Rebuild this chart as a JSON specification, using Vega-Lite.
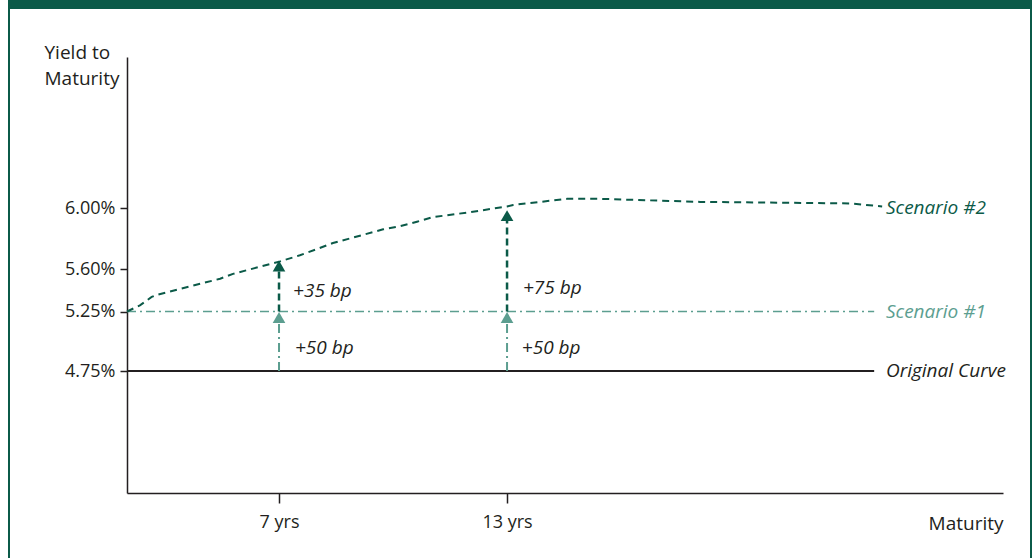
{
  "$schema": "https://vega.github.io/schema/vega-lite/v6.json",
  "width": 1022,
  "height": 559,
  "autosize": {"type": "none"},
  "padding": {"left": 9, "top": 0, "right": 3, "bottom": 0},
  "background": "white",
  "config": {
    "view": {"stroke": "#0b5a48", "strokeWidth": 2, "fill": "white"},
    "font": "Open Sans"
  },
  "datasets": {
    "curves": [
      {"series": "Original Curve", "maturity": 3, "yield": 4.75},
      {"series": "Original Curve", "maturity": 22.66, "yield": 4.75},
      {"series": "Scenario #1", "maturity": 3, "yield": 5.25},
      {"series": "Scenario #1", "maturity": 22.66, "yield": 5.25},
      {"series": "Scenario #2", "maturity": 3.0, "yield": 5.25},
      {"series": "Scenario #2", "maturity": 3.34, "yield": 5.30},
      {"series": "Scenario #2", "maturity": 3.65, "yield": 5.37},
      {"series": "Scenario #2", "maturity": 3.82, "yield": 5.39},
      {"series": "Scenario #2", "maturity": 5.45, "yield": 5.52},
      {"series": "Scenario #2", "maturity": 5.79, "yield": 5.56},
      {"series": "Scenario #2", "maturity": 7.03, "yield": 5.65},
      {"series": "Scenario #2", "maturity": 7.55, "yield": 5.69},
      {"series": "Scenario #2", "maturity": 8.42, "yield": 5.77},
      {"series": "Scenario #2", "maturity": 9.74, "yield": 5.86},
      {"series": "Scenario #2", "maturity": 10.18, "yield": 5.88},
      {"series": "Scenario #2", "maturity": 10.63, "yield": 5.91},
      {"series": "Scenario #2", "maturity": 11.05, "yield": 5.94},
      {"series": "Scenario #2", "maturity": 11.95, "yield": 5.97},
      {"series": "Scenario #2", "maturity": 13.0, "yield": 6.01},
      {"series": "Scenario #2", "maturity": 13.16, "yield": 6.02},
      {"series": "Scenario #2", "maturity": 14.58, "yield": 6.06},
      {"series": "Scenario #2", "maturity": 15.45, "yield": 6.06},
      {"series": "Scenario #2", "maturity": 18.08, "yield": 6.04},
      {"series": "Scenario #2", "maturity": 22.03, "yield": 6.03},
      {"series": "Scenario #2", "maturity": 22.87, "yield": 6.01}
    ],
    "arrows": [
      {"series": "Scenario #1", "maturity": 7, "yield": 4.75, "yield2": 5.2},
      {"series": "Scenario #2", "maturity": 7, "yield": 5.25, "yield2": 5.62},
      {"series": "Scenario #1", "maturity": 13, "yield": 4.75, "yield2": 5.2},
      {"series": "Scenario #2", "maturity": 13, "yield": 5.25, "yield2": 5.95}
    ],
    "heads": [
      {"series": "Scenario #1", "maturity": 7, "yield": 5.2},
      {"series": "Scenario #2", "maturity": 7, "yield": 5.62},
      {"series": "Scenario #1", "maturity": 13, "yield": 5.2},
      {"series": "Scenario #2", "maturity": 13, "yield": 5.95}
    ],
    "labels": [
      {"series": "Scenario #2", "maturity": 22.97, "yield": 6.0, "text": "Scenario #2"},
      {"series": "Scenario #1", "maturity": 22.97, "yield": 5.25, "text": "Scenario #1"},
      {"series": "Original Curve", "maturity": 22.97, "yield": 4.75, "text": "Original Curve"},
      {"series": "shift", "maturity": 7.37, "yield": 5.42, "text": "+35 bp"},
      {"series": "shift", "maturity": 7.42, "yield": 4.94, "text": "+50 bp"},
      {"series": "shift", "maturity": 13.42, "yield": 5.44, "text": "+75 bp"},
      {"series": "shift", "maturity": 13.39, "yield": 4.94, "text": "+50 bp"}
    ]
  },
  "layer": [
    {
      "data": {"name": "curves"},
      "transform": [{"filter": "datum.series === 'Original Curve'"}],
      "mark": {"type": "line", "color": "#231f20", "strokeWidth": 2},
      "encoding": {
        "x": {
          "field": "maturity",
          "type": "quantitative",
          "scale": {"domain": [3, 26.05], "range": [118, 994], "nice": false, "zero": false},
          "axis": {
            "orient": "bottom",
            "offset": -66,
            "values": [7, 13],
            "labelExpr": "datum.value + ' yrs'",
            "grid": false,
            "domainColor": "#231f20",
            "domainWidth": 1.5,
            "tickColor": "#231f20",
            "tickWidth": 1.5,
            "tickSize": 10,
            "labelPadding": 10,
            "labelFontSize": 18,
            "labelColor": "#231f20",
            "labelFont": "Open Sans",
            "title": "Maturity",
            "titleFont": "Open Sans",
            "titleFontSize": 19,
            "titleFontWeight": "normal",
            "titleColor": "#231f20",
            "titleAlign": "right",
            "titleBaseline": "alphabetic",
            "titleX": 994,
            "titleY": 36
          }
        },
        "y": {
          "field": "yield",
          "type": "quantitative",
          "scale": {"domain": [3.725, 4.75, 5.25, 5.6, 6.0, 6.99], "range": [493, 371, 311.5, 269, 208, 57], "nice": false, "zero": false},
          "axis": {
            "orient": "left",
            "offset": -118,
            "values": [4.75, 5.25, 5.6, 6.0],
            "labelExpr": "format(datum.value, '.2f') + '%'",
            "grid": false,
            "domainColor": "#231f20",
            "domainWidth": 1.5,
            "tickColor": "#231f20",
            "tickWidth": 1.5,
            "tickSize": 7,
            "labelPadding": 5,
            "labelFontSize": 18,
            "labelColor": "#231f20",
            "labelFont": "Open Sans",
            "title": ["Yield to", "Maturity"],
            "titleFont": "Open Sans",
            "titleFontSize": 19,
            "titleFontWeight": "normal",
            "titleColor": "#231f20",
            "titleAngle": 0,
            "titleAlign": "left",
            "titleBaseline": "alphabetic",
            "titleLineHeight": 26,
            "titleX": -83,
            "titleY": 58
          }
        }
      }
    },
    {
      "data": {"values": [{"part": "frame"}]},
      "mark": {"type": "rect", "color": "#0b5a48"},
      "encoding": {
        "x": {"datum": -0.131, "type": "quantitative"},
        "x2": {"datum": 26.81},
        "y": {"datum": 7.45, "type": "quantitative"},
        "y2": {"datum": 7.305}
      }
    },
    {
      "data": {"name": "curves"},
      "transform": [{"filter": "datum.series === 'Scenario #1'"}],
      "mark": {"type": "line", "color": "#5c9e90", "strokeWidth": 1.5, "strokeDash": [9, 4, 2, 4]},
      "encoding": {
        "x": {"field": "maturity", "type": "quantitative"},
        "y": {"field": "yield", "type": "quantitative"}
      }
    },
    {
      "data": {"name": "curves"},
      "transform": [{"filter": "datum.series === 'Scenario #2'"}],
      "mark": {"type": "line", "color": "#0b5a48", "strokeWidth": 2, "strokeDash": [7, 5]},
      "encoding": {
        "x": {"field": "maturity", "type": "quantitative"},
        "y": {"field": "yield", "type": "quantitative"},
        "order": {"field": "maturity", "type": "quantitative"}
      }
    },
    {
      "data": {"name": "arrows"},
      "transform": [{"filter": "datum.series === 'Scenario #1'"}],
      "mark": {"type": "rule", "color": "#5c9e90", "strokeWidth": 2, "strokeDash": [9, 4, 2, 4]},
      "encoding": {
        "x": {"field": "maturity", "type": "quantitative"},
        "y": {"field": "yield", "type": "quantitative"},
        "y2": {"field": "yield2"}
      }
    },
    {
      "data": {"name": "arrows"},
      "transform": [{"filter": "datum.series === 'Scenario #2'"}],
      "mark": {"type": "rule", "color": "#0b5a48", "strokeWidth": 2.5, "strokeDash": [7, 4]},
      "encoding": {
        "x": {"field": "maturity", "type": "quantitative"},
        "y": {"field": "yield", "type": "quantitative"},
        "y2": {"field": "yield2"}
      }
    },
    {
      "data": {"name": "heads"},
      "mark": {"type": "point", "shape": "triangle-up", "filled": true, "size": 160, "opacity": 1},
      "encoding": {
        "x": {"field": "maturity", "type": "quantitative"},
        "y": {"field": "yield", "type": "quantitative"},
        "color": {
          "field": "series",
          "type": "nominal",
          "scale": {"domain": ["Original Curve", "Scenario #1", "Scenario #2", "shift"], "range": ["#231f20", "#5c9e90", "#0b5a48", "#231f20"]},
          "legend": null
        }
      }
    },
    {
      "data": {"name": "labels"},
      "mark": {"type": "text", "align": "left", "baseline": "middle", "font": "Open Sans", "fontSize": 19, "fontStyle": "italic"},
      "encoding": {
        "x": {"field": "maturity", "type": "quantitative"},
        "y": {"field": "yield", "type": "quantitative"},
        "text": {"field": "text"},
        "color": {
          "field": "series",
          "type": "nominal",
          "scale": {"domain": ["Original Curve", "Scenario #1", "Scenario #2", "shift"], "range": ["#231f20", "#5c9e90", "#0b5a48", "#231f20"]},
          "legend": null
        }
      }
    }
  ]
}
